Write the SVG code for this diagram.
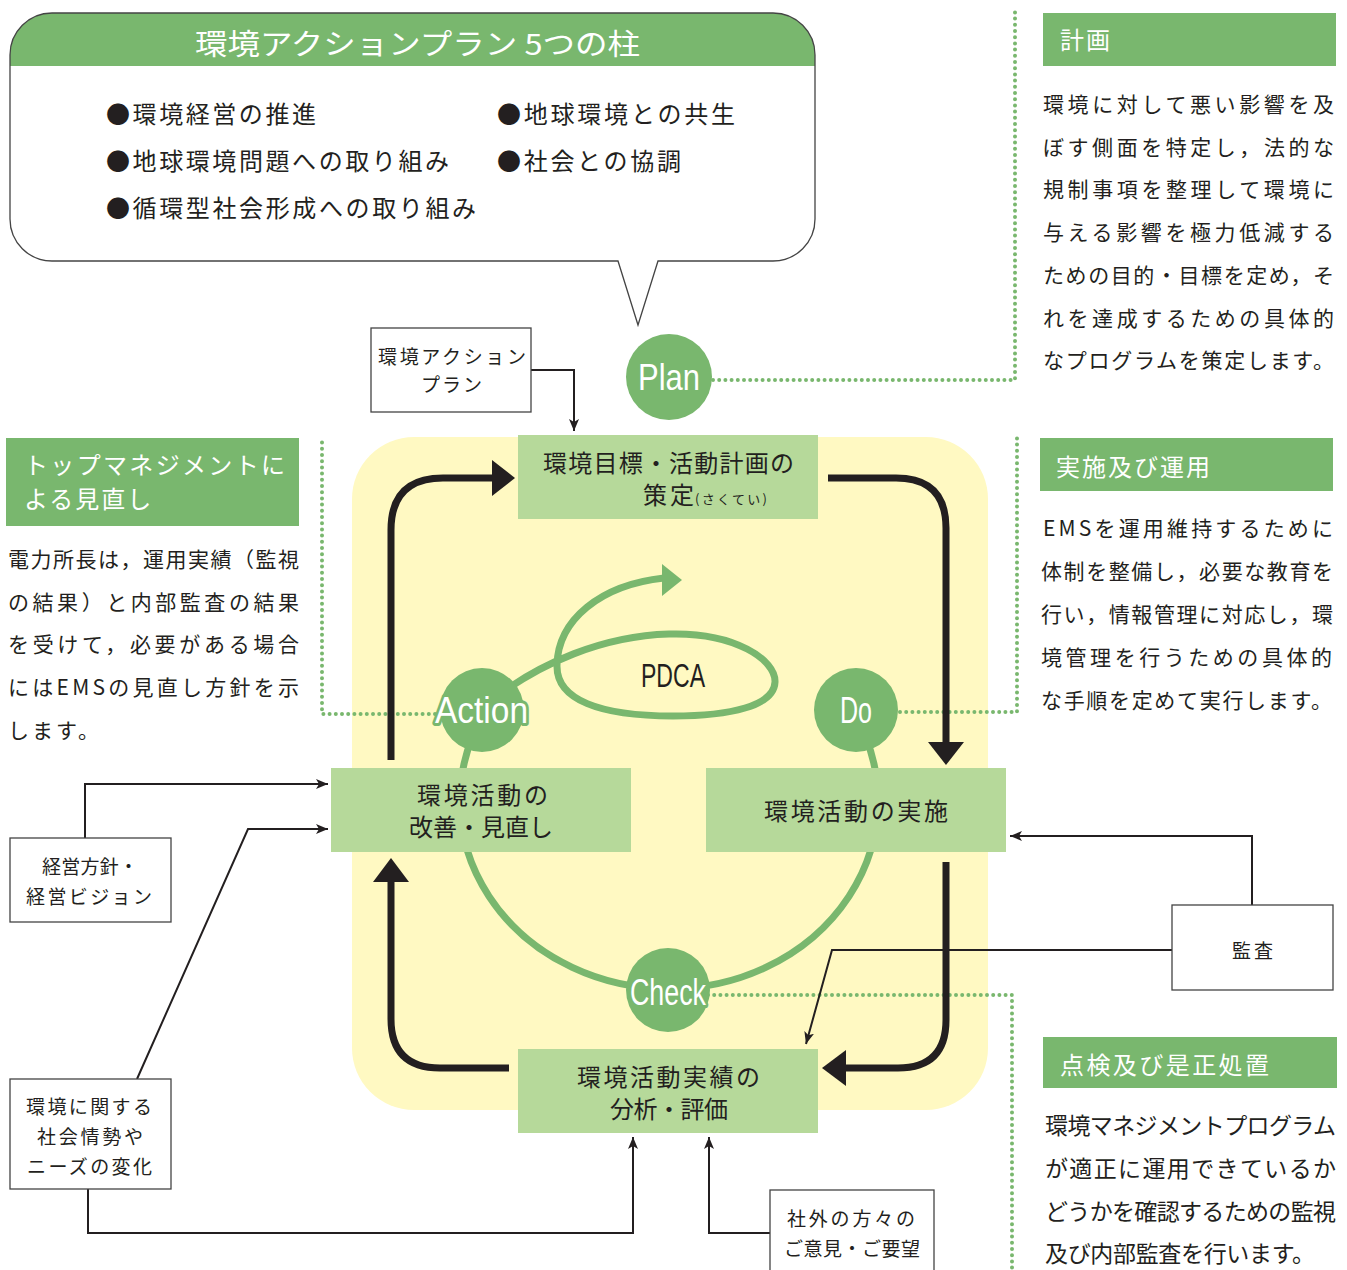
<svg xmlns="http://www.w3.org/2000/svg" width="1347" height="1270" viewBox="0 0 1347 1270">
<defs>
<style>
text{font-family:'Noto Sans CJK JP','Noto Sans',sans-serif;fill:#231f20}
.hdr{fill:#79b76e}
.hdrt{fill:#fff;font-size:24px;letter-spacing:2px}
.body{font-size:21px}
.box{fill:#b6d99a}
.bt{font-size:24px}
.sbox{fill:#fff;stroke:#444;stroke-width:1.3}
.st{font-size:19px}
.dot{fill:none;stroke:#79b76e;stroke-width:4;stroke-linecap:round;stroke-dasharray:0 6.2}
.thin{fill:none;stroke:#231f20;stroke-width:2}
.thick{fill:none;stroke:#231f20;stroke-width:7}
.gl{fill:none;stroke:#79b76e;stroke-width:7}
.pc{fill:#79b76e}
.lbl{font-family:'Liberation Sans',sans-serif;font-size:36px;fill:#fff;stroke:#79b76e;stroke-width:6;paint-order:stroke;stroke-linejoin:round}
</style>
<marker id="ah" viewBox="0 0 12 10" refX="12" refY="5" markerWidth="12" markerHeight="10" markerUnits="userSpaceOnUse" orient="auto">
<path d="M0,0 L12,5 L0,10 L3,5 z" fill="#231f20"/>
</marker>
</defs>
<rect width="1347" height="1270" fill="#fff"/>

<!-- speech bubble -->
<g id="bubble">
<path d="M52,13 H773 A42,42 0 0 1 815,55 V219 A42,42 0 0 1 773,261 H658 L638,325 L618,261 H52 A42,42 0 0 1 10,219 V55 A42,42 0 0 1 52,13 Z" fill="#fff"/>
<path d="M52,13 H773 A42,42 0 0 1 815,55 V66 H10 V55 A42,42 0 0 1 52,13 Z" class="hdr"/>
<path d="M52,13 H773 A42,42 0 0 1 815,55 V219 A42,42 0 0 1 773,261 H658 L638,325 L618,261 H52 A42,42 0 0 1 10,219 V55 A42,42 0 0 1 52,13 Z" fill="none" stroke="#444" stroke-width="1.3"/>
<text x="195" y="55" font-size="29" fill="#fff" style="fill:#fff" textLength="445" lengthAdjust="spacingAndGlyphs">環境アクションプラン 5つの柱</text>
<text x="106" y="123" font-size="24" textLength="210">●環境経営の推進</text>
<text x="106" y="170" font-size="24" textLength="343">●地球環境問題への取り組み</text>
<text x="106" y="217" font-size="24" textLength="370">●循環型社会形成への取り組み</text>
<text x="497" y="123" font-size="24" textLength="238">●地球環境との共生</text>
<text x="497" y="170" font-size="24" textLength="184">●社会との協調</text>
</g>

<!-- yellow area -->
<rect x="352" y="437" width="636" height="673" rx="62" fill="#fff9c2"/>

<!-- side panels -->
<g id="panel-plan">
<rect x="1043" y="13" width="293" height="53" class="hdr"/>
<text x="1060" y="49" class="hdrt" style="fill:#fff">計画</text>
<g class="body">
<text x="1043" y="112" textLength="291">環境に対して悪い影響を及</text>
<text x="1043" y="155" textLength="291">ぼす側面を特定し，法的な</text>
<text x="1043" y="197" textLength="291">規制事項を整理して環境に</text>
<text x="1043" y="240" textLength="291">与える影響を極力低減する</text>
<text x="1043" y="283" textLength="291">ための目的・目標を定め，そ</text>
<text x="1043" y="326" textLength="291">れを達成するための具体的</text>
<text x="1043" y="368" textLength="291">なプログラムを策定します。</text>
</g>
</g>

<g id="panel-action">
<rect x="6" y="438" width="293" height="88" class="hdr"/>
<text x="24" y="474" class="hdrt" style="fill:#fff" textLength="263">トップマネジメントに</text>
<text x="24" y="508" class="hdrt" style="fill:#fff">よる見直し</text>
<g class="body">
<text x="8" y="567" textLength="291">電力所長は，運用実績（監視</text>
<text x="8" y="610" textLength="291">の結果）と内部監査の結果</text>
<text x="8" y="652" textLength="291">を受けて，必要がある場合</text>
<text x="8" y="695" textLength="291">にはEMSの見直し方針を示</text>
<text x="8" y="738" letter-spacing="3">します。</text>
</g>
</g>

<g id="panel-do">
<rect x="1040" y="438" width="293" height="53" class="hdr"/>
<text x="1056" y="476" class="hdrt" style="fill:#fff">実施及び運用</text>
<g class="body">
<text x="1043" y="536" textLength="290">EMSを運用維持するために</text>
<text x="1041" y="579" textLength="292">体制を整備し，必要な教育を</text>
<text x="1041" y="622" textLength="292">行い，情報管理に対応し，環</text>
<text x="1041" y="665" textLength="291">境管理を行うための具体的</text>
<text x="1041" y="708" textLength="291">な手順を定めて実行します。</text>
</g>
</g>

<g id="panel-check">
<rect x="1043" y="1037" width="294" height="51" class="hdr"/>
<text x="1060" y="1074" class="hdrt" style="fill:#fff" font-size="25" textLength="211">点検及び是正処置</text>
<g font-size="23">
<text x="1045" y="1134" textLength="291">環境マネジメントプログラム</text>
<text x="1045" y="1177" textLength="291">が適正に運用できているか</text>
<text x="1045" y="1220" textLength="291">どうかを確認するための監視</text>
<text x="1045" y="1262" textLength="270">及び内部監査を行います。</text>
</g>
</g>

<!-- PDCA green loop -->
<g id="pdca-cycle">
<path class="gl" d="M486,710 A209,188 0 1 0 852,710"/>
<path class="gl" d="M500,694 C540,665 600,636 669,634 C735,632 776,660 775,682 C774,706 730,716 673,716 C600,716 556,700 557,665 C558,620 600,585 664,578"/>
<polygon points="662,564 682,580 662,596" class="pc"/>
<text x="641" y="687" font-size="34" font-family="'Liberation Sans',sans-serif" style="font-family:'Liberation Sans',sans-serif" textLength="64" lengthAdjust="spacingAndGlyphs">PDCA</text>
</g>

<!-- dotted leaders -->
<g id="leaders">
<path class="dot" d="M713,380 H1015 V12"/>
<path class="dot" d="M435,714 H322 V438"/>
<path class="dot" d="M900,712 H1017 V436"/>
<path class="dot" d="M708,995 H1012 V1270"/>
</g>

<!-- connectors -->
<g id="connectors">
<path class="thick" d="M391,760 V530 Q391,478 443,478 H497"/>
<polygon points="492,460 515,478 492,496" fill="#231f20"/>
<path class="thick" d="M828,478 H896 Q946,478 946,528 V748"/>
<polygon points="928,742 946,765 964,742" fill="#231f20"/>
<path class="thick" d="M946,862 V1020 Q946,1068 898,1068 H840"/>
<polygon points="846,1050 822,1068 846,1086" fill="#231f20"/>
<path class="thick" d="M509,1068 H440 Q391,1068 391,1019 V876"/>
<polygon points="373,882 391,858 409,882" fill="#231f20"/>

<path class="thin" d="M531,370 H574 V431" marker-end="url(#ah)"/>
<path class="thin" d="M85,838 V784 H328" marker-end="url(#ah)"/>
<path class="thin" d="M137,1079 L248,829 H328" marker-end="url(#ah)"/>
<path class="thin" d="M88,1189 V1233 H633 V1137" marker-end="url(#ah)"/>
<path class="thin" d="M770,1233 H709 V1137" marker-end="url(#ah)"/>
<path class="thin" d="M1252,905 V836 H1010" marker-end="url(#ah)"/>
<path class="thin" d="M1172,950 H832 L806,1044" marker-end="url(#ah)"/>
</g>

<!-- PDCA stage circles -->
<g id="plan"><circle cx="669" cy="377" r="43" class="pc"/><text x="638" y="390" class="lbl" textLength="62" lengthAdjust="spacingAndGlyphs">Plan</text></g>
<g id="action"><circle cx="482" cy="710" r="42" class="pc"/><text x="435" y="723" class="lbl" textLength="93" lengthAdjust="spacingAndGlyphs">Action</text></g>
<g id="do"><circle cx="856" cy="710" r="42" class="pc"/><text x="840" y="723" class="lbl" textLength="32" lengthAdjust="spacingAndGlyphs">Do</text></g>
<g id="check"><circle cx="668" cy="990" r="42" class="pc"/><text x="630" y="1005" class="lbl" textLength="76" lengthAdjust="spacingAndGlyphs">Check</text></g>

<!-- process boxes -->
<g id="box-plan">
<rect x="518" y="435" width="300" height="84" class="box"/>
<text x="543" y="472" class="bt" textLength="251">環境目標・活動計画の</text>
<text x="643" y="504" class="bt" textLength="51">策定</text>
<text x="695" y="504" font-size="13" textLength="72">(さくてい)</text>
</g>
<g id="box-action">
<rect x="331" y="768" width="300" height="84" class="box"/>
<text x="417" y="804" class="bt" textLength="131">環境活動の</text>
<text x="409" y="836" class="bt" textLength="144">改善・見直し</text>
</g>
<g id="box-do">
<rect x="706" y="768" width="300" height="84" class="box"/>
<text x="764" y="820" class="bt" textLength="184">環境活動の実施</text>
</g>
<g id="box-check">
<rect x="518" y="1049" width="300" height="84" class="box"/>
<text x="577" y="1086" class="bt" textLength="183">環境活動実績の</text>
<text x="610" y="1118" class="bt" textLength="118">分析・評価</text>
</g>

<!-- input boxes -->
<g id="in-actionplan">
<rect x="371" y="328" width="160" height="84" class="sbox"/>
<text x="378" y="364" class="st" textLength="148">環境アクション</text>
<text x="421" y="392" class="st" textLength="61">プラン</text>
</g>
<g id="in-policy">
<rect x="10" y="838" width="161" height="84" class="sbox"/>
<text x="42" y="874" class="st" textLength="96">経営方針・</text>
<text x="26" y="904" class="st" textLength="126">経営ビジョン</text>
</g>
<g id="in-society">
<rect x="10" y="1079" width="161" height="110" class="sbox"/>
<text x="26" y="1114" class="st" textLength="126">環境に関する</text>
<text x="37" y="1144" class="st" textLength="106">社会情勢や</text>
<text x="27" y="1174" class="st" textLength="125">ニーズの変化</text>
</g>
<g id="in-audit">
<rect x="1172" y="905" width="161" height="85" class="sbox"/>
<text x="1232" y="958" class="st" textLength="41">監査</text>
</g>
<g id="in-external">
<rect x="770" y="1190" width="164" height="90" class="sbox"/>
<text x="787" y="1226" class="st" textLength="128">社外の方々の</text>
<text x="784" y="1256" class="st" textLength="136">ご意見・ご要望</text>
</g>
</svg>
